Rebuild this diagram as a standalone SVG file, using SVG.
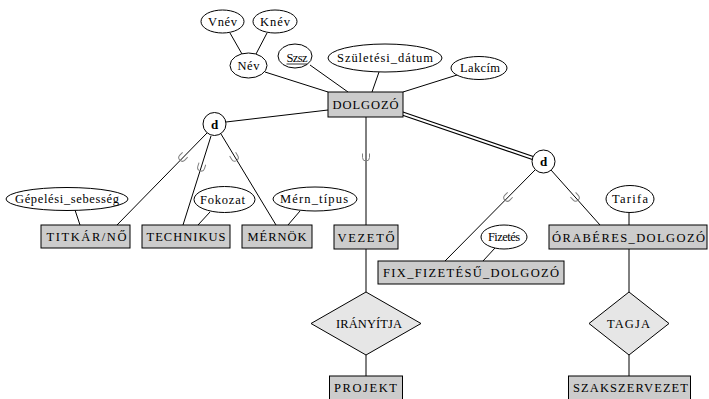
<svg xmlns="http://www.w3.org/2000/svg" width="709" height="399" viewBox="0 0 709 399">
<style>
text{font-family:"Liberation Serif","DejaVu Serif",serif;font-size:12.5px;fill:#000;text-anchor:middle}
.ent{fill:#cccccc;stroke:#000;stroke-width:1}
.rel{fill:#e6e6e6;stroke:#000;stroke-width:1}
.att{fill:#fff;stroke:#000;stroke-width:1}
.d{fill:#fff;stroke:#000;stroke-width:1}
.dt{font-weight:bold;font-size:13px}
#connectors line{stroke:#000;stroke-width:1}
.sub{fill:none;stroke:#808080;stroke-width:1}
</style>
<defs>
<path id="u" d="M-3.5,-4.5 V-0.5 A3.5,3.5 0 0 0 3.5,-0.5 V-4.5"/>
</defs>
<rect width="709" height="399" fill="#fff"/>
<g id="connectors">
<line x1="230" y1="33" x2="242" y2="54"/>
<line x1="267" y1="33" x2="256" y2="54"/>
<line x1="265" y1="72" x2="328" y2="92"/>
<line x1="310" y1="65" x2="348" y2="92"/>
<line x1="379" y1="72" x2="372" y2="92"/>
<line x1="457" y1="75" x2="403" y2="92"/>
<line x1="226" y1="122" x2="328" y2="110"/>
<line x1="207" y1="133" x2="117" y2="225"/>
<line x1="211" y1="136" x2="183" y2="225"/>
<line x1="221" y1="134" x2="276" y2="225"/>
<line x1="75" y1="210" x2="80" y2="225"/>
<line x1="210" y1="212" x2="198" y2="225"/>
<line x1="300" y1="211" x2="288" y2="225"/>
<line x1="366" y1="117" x2="366" y2="225"/>
<line x1="366" y1="249" x2="366" y2="292"/>
<line x1="366" y1="355" x2="366" y2="376"/>
<line x1="398" y1="112" x2="543" y2="161.5" style="stroke-width:4.2"/>
<line x1="398" y1="112" x2="543" y2="161.5" style="stroke:#fff;stroke-width:2"/>
<line x1="535" y1="170" x2="445" y2="261"/>
<line x1="551" y1="170" x2="600" y2="225"/>
<line x1="495" y1="248" x2="483" y2="261"/>
<line x1="629" y1="213" x2="629" y2="225"/>
<line x1="629" y1="249" x2="629" y2="292"/>
<line x1="629" y1="355" x2="629" y2="376"/>
<use href="#u" class="sub" transform="translate(182,158) rotate(44.3)"/>
<use href="#u" class="sub" transform="translate(201,168) rotate(17.5)"/>
<use href="#u" class="sub" transform="translate(235,158) rotate(-31.6)"/>
<use href="#u" class="sub" transform="translate(366,158)"/>
<use href="#u" class="sub" transform="translate(507,198) rotate(44.7)"/>
<use href="#u" class="sub" transform="translate(576,198) rotate(-41.7)"/>
</g>
<g id="vnev"><ellipse class="att" cx="222.5" cy="21.5" rx="21.5" ry="11.5"/><text x="222.5" y="25.5" textLength="29" lengthAdjust="spacing">Vnév</text></g>
<g id="knev"><ellipse class="att" cx="275" cy="21.5" rx="22" ry="11.5"/><text x="275" y="25.5" textLength="30" lengthAdjust="spacing">Knév</text></g>
<g id="nev"><ellipse class="att" cx="248.5" cy="65.5" rx="18.5" ry="12.5"/><text x="248.5" y="69.5" textLength="22" lengthAdjust="spacing">Név</text></g>
<g id="szsz"><ellipse class="att" cx="295" cy="56" rx="17" ry="12"/><text x="297" y="61.5" textLength="21" lengthAdjust="spacing">Szsz</text><line x1="286.5" y1="64" x2="307.5" y2="64" stroke="#000" stroke-width="0.8"/></g>
<g id="szuletesi"><ellipse class="att" cx="385" cy="58" rx="57" ry="14"/><text x="385" y="62" textLength="96" lengthAdjust="spacing">Születési_dátum</text></g>
<g id="lakcim"><ellipse class="att" cx="479" cy="68" rx="28" ry="11.5"/><text x="480" y="72" textLength="40" lengthAdjust="spacing">Lakcím</text></g>
<g id="dolgozo"><rect class="ent" x="328" y="92" width="75" height="25"/><text x="365.5" y="108.5" textLength="66" lengthAdjust="spacing">DOLGOZÓ</text></g>
<g id="d1"><circle class="d" cx="214.5" cy="124" r="11.5"/><text class="dt" x="214.5" y="128.5">d</text></g>
<g id="d2"><circle class="d" cx="543.5" cy="161.5" r="11.5"/><text class="dt" x="543.5" y="166">d</text></g>
<g id="gepelesi"><ellipse class="att" cx="67" cy="199" rx="61" ry="11.5"/><text x="67" y="203" textLength="104" lengthAdjust="spacing">Gépelési_sebesség</text></g>
<g id="fokozat"><ellipse class="att" cx="224.5" cy="199.5" rx="30.5" ry="13"/><text x="222.5" y="203.5" textLength="45" lengthAdjust="spacing">Fokozat</text></g>
<g id="merntipus"><ellipse class="att" cx="315" cy="199" rx="42" ry="12"/><text x="314" y="203" textLength="68" lengthAdjust="spacing">Mérn_típus</text></g>
<g id="tarifa"><ellipse class="att" cx="630" cy="199" rx="24" ry="13.5"/><text x="630" y="203" textLength="36" lengthAdjust="spacing">Tarifa</text></g>
<g id="fizetes"><ellipse class="att" cx="504" cy="237" rx="23" ry="12"/><text x="504" y="241" textLength="32" lengthAdjust="spacing">Fizetés</text></g>
<g id="titkar"><rect class="ent" x="41" y="225" width="89" height="23"/><text x="86.5" y="241" textLength="80" lengthAdjust="spacing">TITKÁR/NŐ</text></g>
<g id="technikus"><rect class="ent" x="142" y="225" width="88" height="23"/><text x="186" y="241" textLength="79" lengthAdjust="spacing">TECHNIKUS</text></g>
<g id="mernok"><rect class="ent" x="242" y="225" width="70" height="23"/><text x="277" y="241" textLength="59" lengthAdjust="spacing">MÉRNÖK</text></g>
<g id="vezeto"><rect class="ent" x="334" y="225" width="64" height="24"/><text x="366" y="241.5" textLength="57" lengthAdjust="spacing">VEZETŐ</text></g>
<g id="oraberes"><rect class="ent" x="549" y="225" width="158" height="24"/><text x="628.5" y="241.5" textLength="153" lengthAdjust="spacing">ÓRABÉRES_DOLGOZÓ</text></g>
<g id="fix"><rect class="ent" x="378" y="261" width="186" height="23"/><text x="471" y="277" textLength="176" lengthAdjust="spacing">FIX_FIZETÉSŰ_DOLGOZÓ</text></g>
<g id="iranyitja"><polygon class="rel" points="366,292 421,323.5 366,355 311,323.5"/><text x="369" y="327.5" textLength="66" lengthAdjust="spacing">IRÁNYÍTJA</text></g>
<g id="tagja"><polygon class="rel" points="629,292 669,323.5 629,355 589,323.5"/><text x="628.5" y="327.5" textLength="43" lengthAdjust="spacing">TAGJA</text></g>
<g id="projekt"><rect class="ent" x="329.5" y="376" width="73" height="26"/><text x="365.5" y="392" textLength="63" lengthAdjust="spacing">PROJEKT</text></g>
<g id="szakszervezet"><rect class="ent" x="568.5" y="376" width="122" height="26"/><text x="630.5" y="392" textLength="115" lengthAdjust="spacing">SZAKSZERVEZET</text></g>
</svg>
